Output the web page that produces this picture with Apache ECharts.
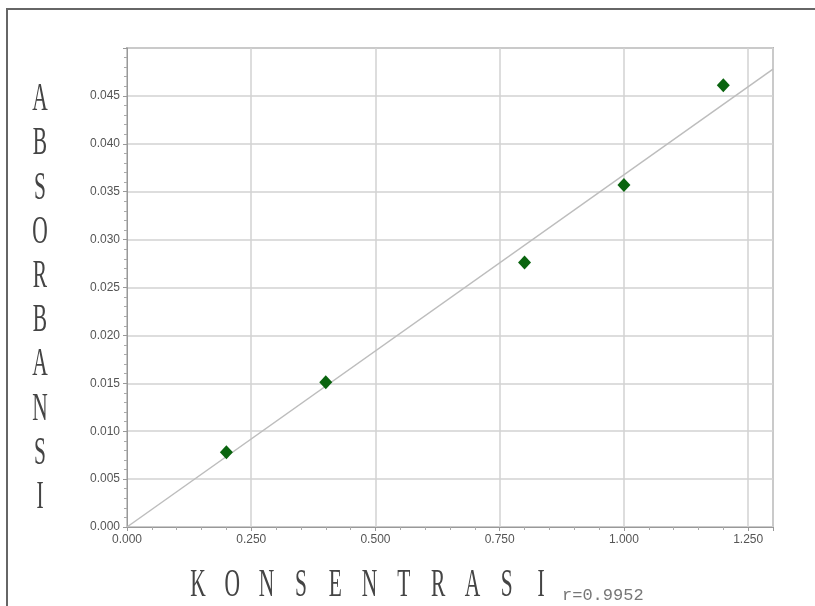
<!DOCTYPE html>
<html>
<head>
<meta charset="utf-8">
<script src="https://cdn.jsdelivr.net/npm/echarts@6/dist/echarts.min.js"></script>
<style>html,body{margin:0;padding:0;background:#fff}#c{width:815px;height:606px}</style>
</head>
<body>
<div id="c"></div>
<script>
// Data
var concentration = [0.2, 0.4, 0.8, 1.0, 1.2];
var absorbance = [0.0078, 0.0151, 0.0276, 0.0357, 0.0461];
var fitX = [0, 1.3];
var fitY = [0, 0.0478];
var yTitle = ['A','B','S','O','R','B','A','N','S','I'];
var xTitle = ['K','O','N','S','E','N','T','R','A','S','I'];
var rText = 'r=0.9952';

var chart = echarts.init(document.getElementById('c'));
var letterFont = '39px "Liberation Serif", "DejaVu Serif", serif';
var graphics = [];
// outer frame
graphics.push({type:'polyline', shape:{points:[[7,606],[7,9],[815,9]]}, style:{stroke:'#666', lineWidth:2, fill:null}, silent:true});
yTitle.forEach(function(ch, i){
  graphics.push({type:'text', x:40, y:100 + i*44.2, scaleX:0.55,
    style:{text:ch, font:letterFont, fill:'#444', textAlign:'center', textVerticalAlign:'middle'}});
});
xTitle.forEach(function(ch, i){
  graphics.push({type:'text', x:198 + i*34.3, y:586, scaleX:0.55,
    style:{text:ch, font:letterFont, fill:'#444', textAlign:'center', textVerticalAlign:'middle'}});
});
graphics.push({type:'text', x:562, y:595, style:{text:rText, font:'17px "Liberation Mono", "DejaVu Sans Mono", monospace', fill:'#777', textAlign:'left', textVerticalAlign:'middle'}});

function isMult(v, step){ var q = v/step; return Math.abs(q - Math.round(q)) < 1e-6; }

chart.setOption({
  animation:false,
  backgroundColor:'#fff',
  grid:{left:127, top:48, right:42, bottom:79, show:true, borderColor:'#b5b5b5', borderWidth:2},
  xAxis:{type:'value', min:0, max:1.3, interval:0.25,
    axisLine:{show:true, lineStyle:{color:'#999', width:1}},
    axisTick:{show:true, length:4, lineStyle:{color:'#999'}},
    minorTick:{show:true, splitNumber:5, length:3, lineStyle:{color:'#aaa'}},
    splitLine:{show:true, lineStyle:{color:'#d2d2d2', width:1.5}},
    axisLabel:{color:'#555', fontSize:12, fontFamily:'"Liberation Sans", Arial, sans-serif', margin:7,
      formatter:function(v){ return isMult(v,0.25) ? v.toFixed(3) : ''; }}
  },
  yAxis:{type:'value', min:0, max:0.05, interval:0.005,
    axisLine:{show:true, lineStyle:{color:'#999', width:1}},
    axisTick:{show:true, length:4, lineStyle:{color:'#999'}},
    minorTick:{show:true, splitNumber:5, length:3, lineStyle:{color:'#aaa'}},
    splitLine:{show:true, lineStyle:{color:'#d2d2d2', width:1.5}},
    axisLabel:{color:'#555', fontSize:12, fontFamily:'"Liberation Sans", Arial, sans-serif', margin:7,
      formatter:function(v){ return v >= 0.0499 ? '' : v.toFixed(3); }}
  },
  series:[
    {type:'line', data:fitX.map(function(x,i){return [x, fitY[i]];}), showSymbol:false, symbol:'none',
      lineStyle:{color:'#bdbdbd', width:1.5}, z:2},
    {type:'scatter', data:concentration.map(function(x,i){return [x, absorbance[i]];}),
      symbol:'diamond', symbolSize:[13,14], itemStyle:{color:'#0a640f', opacity:1}, z:3}
  ],
  graphic:graphics
});
</script>
</body>
</html>
